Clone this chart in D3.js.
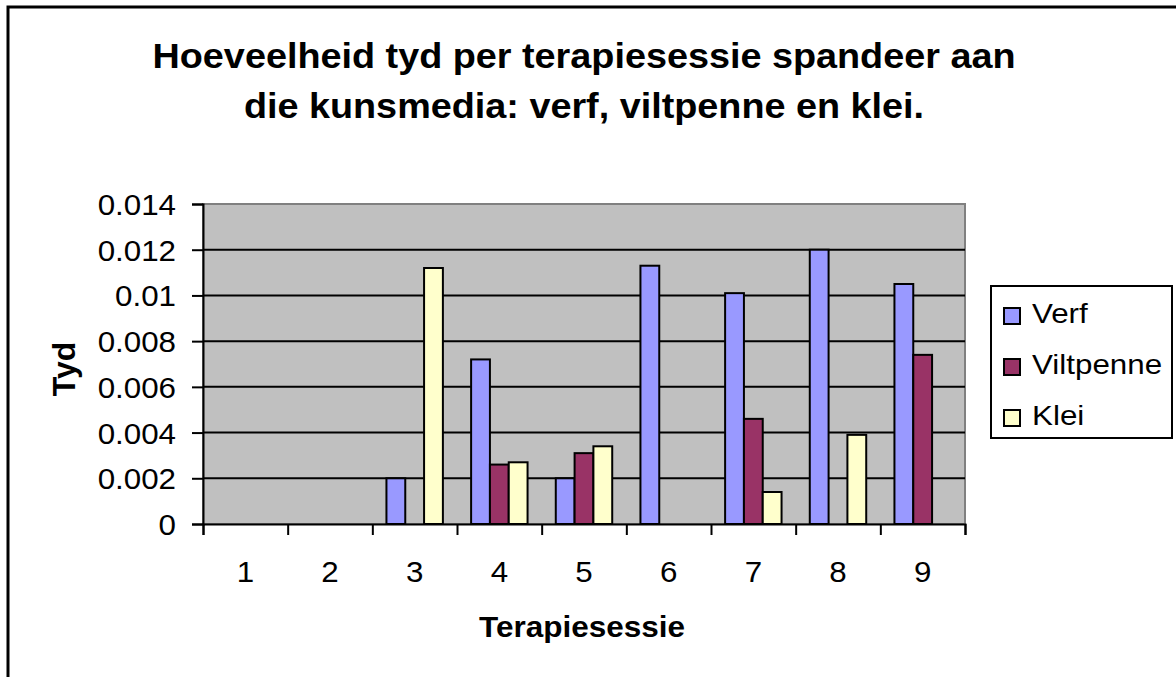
<!DOCTYPE html>
<html>
<head>
<meta charset="utf-8">
<script src="https://cdn.jsdelivr.net/npm/d3@7/dist/d3.min.js"></script>
<style>
  body { margin: 0; background: #fff; }
  svg { display: block; font-family: "Liberation Sans", Arial, sans-serif; }
</style>
</head>
<body>
<div id="chart-area"></div>
<script>
//data
var sessions = ["1", "2", "3", "4", "5", "6", "7", "8", "9"];
var seriesNames = ["Verf", "Viltpenne", "Klei"];
var verf      = [0, 0, 0.0020, 0.0072, 0.0020, 0.0113, 0.0101, 0.0120, 0.0105];
var viltpenne = [0, 0, 0,      0.0026, 0.0031, 0,      0.0046, 0,      0.0074];
var klei      = [0, 0, 0.0112, 0.0027, 0.0034, 0,      0.0014, 0.0039, 0];
var yTicks = [0, 0.002, 0.004, 0.006, 0.008, 0.01, 0.012, 0.014];
var titleLines = ["Hoeveelheid tyd per terapiesessie spandeer aan", "die kunsmedia: verf, viltpenne en klei."];

var colors = ["#9999FF", "#993366", "#FFFFCC"];
var stretch = 1.12; //text in the picture is a bit wider than plain Arial

//sizes
var W = 1176, H = 677;
var margin = {top: 204, left: 203},
    width = 762,
    height = 320;

var svg = d3.select("#chart-area").append("svg")
    .attr("width", W)
    .attr("height", H);

//outer chart border (runs off the right and bottom)
svg.append("rect")
    .attr("x", 8).attr("y", 7)
    .attr("width", W + 20).attr("height", H + 20)
    .attr("fill", "none").attr("stroke", "#000").attr("stroke-width", 3);

//title
svg.selectAll(".title").data(titleLines).enter().append("text")
    .attr("class", "title")
    .attr("transform", (d, i) => "translate(584," + (68 + i * 50) + ") scale(1.08,1)")
    .attr("text-anchor", "middle")
    .attr("font-size", 35).attr("font-weight", "bold")
    .text(d => d);

var g = svg.append("g").attr("transform", "translate(" + margin.left + "," + margin.top + ")");

//scales
var x0 = d3.scaleBand().domain(sessions).range([0, width]);
var x1 = d3.scaleBand().domain(seriesNames).range([0, x0.bandwidth()]).paddingOuter(0.75);
var xEdge = d3.scaleLinear().domain([0, sessions.length]).range([0, width]);
var y = d3.scaleLinear().domain([0, 0.014]).range([height, 0]);

//plot background
g.append("rect")
    .attr("width", width).attr("height", height)
    .attr("fill", "#C0C0C0").attr("stroke", "#808080").attr("stroke-width", 2);

//gridlines
g.selectAll(".grid").data(yTicks.filter(t => t > 0 && t < 0.014)).enter().append("line")
    .attr("class", "grid")
    .attr("x1", 0).attr("x2", width)
    .attr("y1", d => y(d)).attr("y2", d => y(d))
    .attr("stroke", "#000").attr("stroke-width", 2);

//bars
var table = sessions.map((s, i) => ({
    session: s,
    vals: [
        {name: "Verf", v: verf[i]},
        {name: "Viltpenne", v: viltpenne[i]},
        {name: "Klei", v: klei[i]}
    ]
}));

var groups = g.selectAll(".session").data(table).enter().append("g")
    .attr("class", "session")
    .attr("transform", d => "translate(" + x0(d.session) + ",0)");

groups.selectAll("rect").data(d => d.vals.filter(e => e.v > 0)).enter().append("rect")
    .attr("x", d => x1(d.name))
    .attr("width", x1.bandwidth())
    .attr("y", d => y(d.v))
    .attr("height", d => y(0) - y(d.v))
    .attr("fill", d => colors[seriesNames.indexOf(d.name)])
    .attr("stroke", "#000").attr("stroke-width", 2);

//y axis
var yAxis = g.append("g")
    .call(d3.axisLeft(y).tickValues(yTicks).tickSize(11).tickFormat(d => String(+d.toFixed(3))));
yAxis.select(".domain").attr("stroke", "#000").attr("stroke-width", 2);
yAxis.selectAll(".tick line").attr("stroke", "#000").attr("stroke-width", 2);
yAxis.selectAll(".tick text")
    .attr("x", null).attr("dy", "0.36em")
    .attr("transform", "translate(-27,0) scale(1.08,1)")
    .attr("font-size", 29).attr("fill", "#000")
    .style("font-family", "Liberation Sans, Arial, sans-serif");

//x axis: ticks at category edges, labels in the middle
var xTicks = g.append("g")
    .attr("transform", "translate(0," + height + ")")
    .call(d3.axisBottom(xEdge).tickValues(d3.range(sessions.length + 1)).tickSize(11).tickFormat(""));
xTicks.select(".domain").attr("stroke", "#000").attr("stroke-width", 2);
xTicks.selectAll(".tick line").attr("stroke", "#000").attr("stroke-width", 2);

var xLabels = g.append("g")
    .attr("transform", "translate(0," + height + ")")
    .call(d3.axisBottom(x0).tickSize(0));
xLabels.select(".domain").remove();
xLabels.selectAll(".tick text")
    .attr("y", null).attr("dy", null)
    .attr("transform", "translate(0,58) scale(1.08,1)")
    .attr("font-size", 29).attr("fill", "#000")
    .style("font-family", "Liberation Sans, Arial, sans-serif");

//axis titles
svg.append("text")
    .attr("transform", "translate(582,637) scale(1.05,1)")
    .attr("text-anchor", "middle")
    .attr("font-size", 30).attr("font-weight", "bold")
    .text("Terapiesessie");

svg.append("text")
    .attr("transform", "translate(75,369) rotate(-90)")
    .attr("text-anchor", "middle")
    .attr("font-size", 32).attr("font-weight", "bold")
    .text("Tyd");

//legend
var legend = svg.append("g").attr("transform", "translate(991,286)");
legend.append("rect")
    .attr("width", 181).attr("height", 152)
    .attr("fill", "#fff").attr("stroke", "#000").attr("stroke-width", 2);

var item = legend.selectAll(".item").data(seriesNames).enter().append("g")
    .attr("class", "item")
    .attr("transform", (d, i) => "translate(0," + (37 + i * 51) + ")");
item.append("rect")
    .attr("x", 13).attr("y", -15)
    .attr("width", 16).attr("height", 16)
    .attr("fill", (d, i) => colors[i])
    .attr("stroke", "#000").attr("stroke-width", 2);
item.append("text")
    .attr("transform", "translate(41,0) scale(" + stretch + ",1)")
    .attr("font-size", 28)
    .text(d => d);
</script>
</body>
</html>
